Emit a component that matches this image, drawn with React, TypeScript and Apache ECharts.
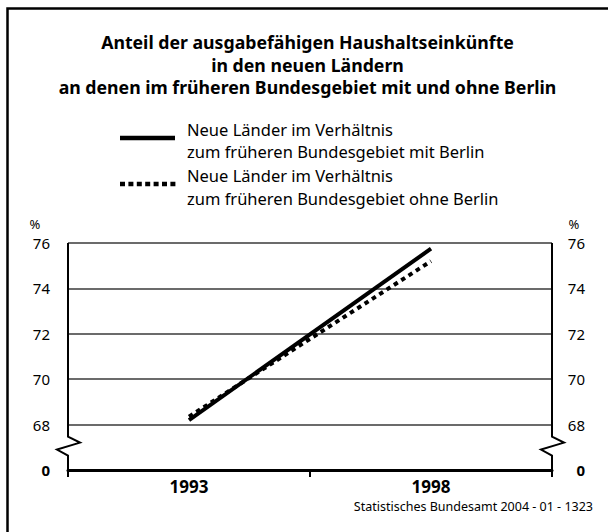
import React, { useEffect, useRef } from 'react';
import * as echarts from 'echarts';

// ---- data ----
const categories = ['1993', '1998'];
const withBerlin = [68.2, 75.75];
const withoutBerlin = [68.35, 75.2];
// axis runs 66..76; the lowest tick (66) stands for the broken "0"
const yTickLabels = ['0', '68', '70', '72', '74', '76'];
const titleLines = [
  'Anteil der ausgabefähigen Haushaltseinkünfte',
  'in den neuen Ländern',
  'an denen im früheren Bundesgebiet mit und ohne Berlin',
];
const seriesNames = [
  'Neue Länder im Verhältnis\nzum früheren Bundesgebiet mit Berlin',
  'Neue Länder im Verhältnis\nzum früheren Bundesgebiet ohne Berlin',
];
const unitLabel = '%';
const sourceNote = 'Statistisches Bundesamt 2004 - 01 - 1323';

const FONT = '"Noto Sans", "Open Sans", sans-serif';
const GRID_LEFT = 68;
const GRID_RIGHT = 56;
const W = 608;

export default function App() {
  const ref = useRef<HTMLDivElement>(null);
  useEffect(() => {
    const chart = echarts.init(ref.current!, null, { renderer: 'svg' });
    const option: any = {
      animation: false,
      backgroundColor: '#fff',
      grid: { left: GRID_LEFT, right: GRID_RIGHT, top: 243, bottom: 62, containLabel: false },
      xAxis: {
        type: 'category',
        data: categories,
        boundaryGap: true,
        axisLine: { show: true, lineStyle: { color: '#000', width: 3 } },
        axisTick: { show: true, length: 7, lineStyle: { color: '#000', width: 2 } },
        axisLabel: { color: '#000', fontFamily: FONT, fontSize: 17, fontWeight: 'bold', margin: 8 },
        z: 5,
      },
      yAxis: [
        {
          type: 'value', position: 'left', min: 66, max: 76, interval: 2,
          axisLine: { show: false }, axisTick: { show: false },
          splitLine: { show: true, lineStyle: { color: '#3a3a3a', width: 1.5 } },
          axisLabel: {
            color: '#000', fontFamily: FONT, fontSize: 15, margin: 18,
            formatter: (_v: number, i: number) => (i === 0 ? '{z|' + yTickLabels[i] + '}' : yTickLabels[i]),
            rich: { z: { fontWeight: 'bold', fontSize: 15, fontFamily: FONT, color: '#000' } },
          },
        },
        {
          type: 'value', position: 'right', min: 66, max: 76, interval: 2,
          axisLine: { show: false }, axisTick: { show: false }, splitLine: { show: false },
          axisLabel: {
            color: '#000', fontFamily: FONT, fontSize: 15, margin: 33, align: 'right',
            formatter: (_v: number, i: number) => (i === 0 ? '{z|' + yTickLabels[i] + '}' : yTickLabels[i]),
            rich: { z: { fontWeight: 'bold', fontSize: 15, fontFamily: FONT, color: '#000', align: 'right' } },
          },
        },
      ],
      series: [
        {
          name: seriesNames[0], type: 'line', data: withBerlin, symbol: 'none',
          lineStyle: { color: '#000', width: 4, cap: 'butt' }, z: 4,
        },
        {
          name: seriesNames[1], type: 'line', data: withoutBerlin, symbol: 'none',
          lineStyle: { color: '#000', width: 4, type: [4.5, 4.2], cap: 'butt' }, z: 3,
        },
      ],
    };
    chart.setOption(option);

    const yOf = (v: number) => chart.convertToPixel({ yAxisIndex: 0 }, v) as number;
    const yTop = yOf(76);
    const y68 = yOf(68);
    const yZero = yOf(66);
    const xL = GRID_LEFT;
    const xR = W - GRID_RIGHT;
    const zig = (x: number) => {
      const b = y68 + 12;
      return [
        [x, yTop], [x, b], [x + 12, b + 6], [x - 11, b + 13], [x, b + 19], [x, yZero + 7],
      ];
    };

    const textEl = (text: string, x: number, y: number, size: number, weight: string, align: string) => ({
      type: 'text', x, y,
      style: { text, fill: '#000', fontSize: size, fontWeight: weight, fontFamily: FONT, align, verticalAlign: 'middle' },
    });

    const titleY = [42, 64.5, 87];
    const legendY = [[129, 151], [175.5, 198]];
    const graphic: any[] = [
      { type: 'rect', shape: { x: 7.5, y: 8.5, width: 1000, height: 1000 }, style: { fill: 'none', stroke: '#000', lineWidth: 2.5 }, silent: true },
      ...titleLines.map((t, i) => textEl(t, 307.5, titleY[i], 17.7, 'bold', 'center')),
      { type: 'line', shape: { x1: 120, y1: 138, x2: 175, y2: 138 }, style: { stroke: '#000', lineWidth: 4.5 } },
      { type: 'line', shape: { x1: 120, y1: 184, x2: 176, y2: 184 }, style: { stroke: '#000', lineWidth: 4.5, lineDash: [5, 3.4] } },
      ...seriesNames.flatMap((n, i) => n.split('\n').map((ln, j) => textEl(ln, 187, legendY[i][j], 16.5, 'normal', 'left'))),
      textEl(unitLabel, 35, 224, 13, 'normal', 'center'),
      textEl(unitLabel, 574, 224, 13, 'normal', 'center'),
      { type: 'polyline', shape: { points: zig(xL) }, style: { stroke: '#000', lineWidth: 2, fill: 'none' }, z: 10 },
      { type: 'polyline', shape: { points: zig(xR) }, style: { stroke: '#000', lineWidth: 2, fill: 'none' }, z: 10 },
      textEl(sourceNote, 593, 506, 12.5, 'normal', 'right'),
    ];
    chart.setOption({ graphic });
    return () => chart.dispose();
  }, []);
  return <div ref={ref} style={{ position: 'fixed', left: 0, top: 0, width: 608, height: 532, background: '#fff' }} />;
}
